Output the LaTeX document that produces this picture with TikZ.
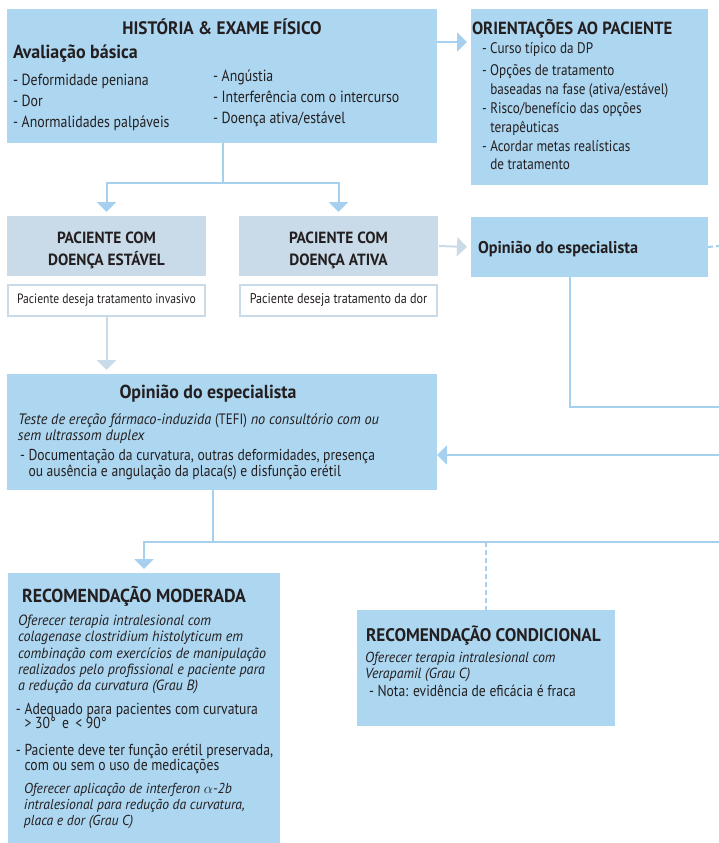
\documentclass[tikz,border=0pt]{standalone}
\usepackage{fontspec}
\setmainfont{PT Sans}[
  UprightFeatures={FakeStretch=0.86},
  BoldFeatures={FakeStretch=0.95},
  ItalicFeatures={FakeStretch=0.95}]
\usetikzlibrary{arrows.meta}

\definecolor{boxblue}{RGB}{173,214,240}
\definecolor{boxgray}{RGB}{201,219,233}
\definecolor{lineblue}{RGB}{166,208,238}
\definecolor{textdark}{RGB}{35,31,32}

\newcommand{\fs}[2]{\fontsize{#1}{#2}\selectfont}
\newcommand{\hang}{\hphantom{- }}
\newcommand{\tline}[1]{\hbox{#1}}
\newcommand{\twolines}[2]{\vtop{\halign{\hfil##\hfil\cr #1\cr #2\cr}}}

\tikzset{
  panel/.style={fill=boxblue, draw=none, anchor=north west, inner sep=0pt, outer sep=0pt},
  graypanel/.style={fill=boxgray, draw=none, anchor=north west, inner sep=0pt, outer sep=0pt},
  whitepanel/.style={fill=white, draw=boxgray, line width=2pt, anchor=north west,
    inner sep=0pt, outer sep=0pt, text=textdark},
  txt/.style={anchor=base west, inner sep=0pt, outer sep=0pt, text=textdark},
  headtxt/.style={anchor=base, inner sep=0pt, outer sep=0pt, text=textdark,
    font=\bfseries\fs{16.2}{22}},
  link/.style={draw=lineblue, line width=2pt},
  arrowlink/.style={link, -{Triangle[length=10pt,width=19pt]}},
  grayarrow/.style={draw=boxgray, line width=2pt, -{Triangle[length=10pt,width=19pt]}},
  dashlink/.style={link, dash pattern=on 5pt off 3pt},
}

\begin{document}
\begin{tikzpicture}[x=1pt, y=-1pt]
\useasboundingbox (0,0) rectangle (719,843);

% ---- boxes ----
\node[panel, minimum width=430pt, minimum height=134pt] (hist) at (7,9) {};
\node[panel, minimum width=237pt, minimum height=176pt] (orient) at (471,9) {};
\node[graypanel, minimum width=199pt, minimum height=60pt] (stablehead) at (7,216) {};
\node[graypanel, minimum width=199pt, minimum height=60pt] (activehead) at (239,216) {};
\node[whitepanel, minimum width=197pt, minimum height=31pt, font=\fs{13.5}{16}] (stablewish) at (8,285) {Paciente deseja tratamento invasivo};
\node[whitepanel, minimum width=197pt, minimum height=31pt, font=\fs{14.1}{17}] (activewish) at (240,285) {Paciente deseja tratamento da dor};
\node[panel, minimum width=237pt, minimum height=60pt] (specright) at (471,217) {};
\node[panel, minimum width=430pt, minimum height=116pt] (specbig) at (7,374) {};
\node[panel, minimum width=272pt, minimum height=270pt] (moderate) at (8,573) {};
\node[panel, minimum width=258pt, minimum height=116pt] (conditional) at (357,610) {};

% ---- texts: history & physical exam ----
\node[txt, anchor=base, font=\bfseries\fs{18.1}{20}] (histtitle) at (222,35) {HISTÓRIA \& EXAME FÍSICO};
\node[txt, font=\bfseries\fs{18.9}{20}] (basic) at (13,58.5) {Avaliação básica};
\node[txt, font=\fs{16.1}{21.2}] (basicleft) at (13,85) {\vtop{\tline{- Deformidade peniana}\tline{- Dor}\tline{- Anormalidades palpáveis}}};
\node[txt, font=\fs{16.1}{20.8}] (basicright) at (213,81.7) {\vtop{\tline{- Angústia}\tline{- Interferência com o intercurso}\tline{- Doença ativa/estável}}};

% ---- texts: patient guidance ----
\node[txt, font=\bfseries\fs{17.6}{20}] (orienttitle) at (472,35) {ORIENTAÇÕES AO PACIENTE};
\node[txt, font=\fs{15.3}{18.8}] (orientlist) at (482,54) {\vtop{\tline{- Curso típico da DP}\vskip3pt
  \tline{- Opções de tratamento}\tline{\hang baseadas na fase (ativa/estável)}
  \tline{- Risco/benefício das opções}\tline{\hang terapêuticas}
  \tline{- Acordar metas realísticas}\tline{\hang de tratamento}}};

% ---- texts: patient groups ----
\node[headtxt] (stableheadtext) at ([yshift=-27pt]stablehead.north) {\twolines{PACIENTE COM}{DOENÇA ESTÁVEL}};
\node[headtxt] (activeheadtext) at ([yshift=-27pt]activehead.north) {\twolines{PACIENTE COM}{DOENÇA ATIVA}};

% ---- texts: specialist opinion ----
\node[txt, font=\bfseries\fs{17}{18}] (specrighttitle) at (478,253.3) {Opinião do especialista};
\node[txt, anchor=base, font=\bfseries\fs{18.8}{20}] (specbigtitle) at (208,398.3) {Opinião do especialista};
\node[txt, font=\itshape\fs{15.05}{16}] (tefi) at (18,424) {\vtop{\tline{Teste de ereção fármaco-induzida {\upshape(TEFI)} no consultório com ou}\tline{sem ultrassom duplex}}};
\node[txt, font=\fs{15.8}{15.5}] (tefidoc) at (20,460.7) {\vtop{\tline{- Documentação da curvatura, outras deformidades, presença}\tline{\hang ou ausência e angulação da placa(s) e disfunção erétil}}};

% ---- texts: moderate recommendation ----
\node[txt, font=\bfseries\fs{18.8}{20}] (modtitle) at (22,602) {RECOMENDAÇÃO MODERADA};
\node[txt, font=\itshape\fs{14.8}{16.2}] (modtext) at (18,625.7) {\vtop{\tline{Oferecer terapia intralesional com}\tline{colagenase clostridium histolyticum em}\tline{combinação com exercícios de manipulação}\tline{realizados pelo profissional e paciente para}\tline{a redução da curvatura (Grau B)}}};
\node[txt, font=\fs{15.9}{14.6}] (modfit) at (16,714.3) {\vtop{\tline{- Adequado para pacientes com curvatura}\tline{\hang > 30°\, e\, < 90°}}};
\node[txt, font=\fs{15.9}{14.6}] (modfunc) at (16,755) {\vtop{\tline{- Paciente deve ter função erétil preservada,}\tline{\hang com ou sem o uso de medicações}}};
\node[txt, font=\itshape\fs{14.4}{16}] (modifn) at (24,793) {\vtop{\tline{Oferecer aplicação de interferon $\alpha$-2b}\tline{intralesional para redução da curvatura,}\tline{placa e dor (Grau C)}}};

% ---- texts: conditional recommendation ----
\node[txt, font=\bfseries\fs{18.2}{20}] (condtitle) at (366,641.7) {RECOMENDAÇÃO CONDICIONAL};
\node[txt, font=\itshape\fs{14.6}{15.6}] (condtext) at (365,662.7) {\vtop{\tline{Oferecer terapia intralesional com}\tline{Verapamil (Grau C)}}};
\node[txt, font=\fs{15.8}{16}] (condnote) at (369,696.7) {- Nota: evidência de eficácia é fraca};

% ---- connector points ----
\coordinate (split) at (223,183);
\coordinate (edgeA) at (719,246);
\coordinate (turnB) at (570,407);
\coordinate (edgeB) at (719,407);
\coordinate (edgeC) at (719,455);
\coordinate (hub) at (213,542);
\coordinate (edgeD) at (719,542);
\coordinate (stableaim) at (specbig.north -| stablewish.south);

% ---- connectors ----
\draw[arrowlink] ([yshift=-33pt]hist.north east) -- ([yshift=-33pt,xshift=-4pt]orient.north west);
\draw[link] (hist.south -| split) -- (split);
\draw[arrowlink] (split) -| ([yshift=4pt]stablehead.north);
\draw[arrowlink] (split) -| ([yshift=4pt]activehead.north);
\draw[grayarrow] ([yshift=-1pt]stablewish.south) -- ([yshift=4pt]stableaim);
\draw[grayarrow] ([xshift=1pt]activehead.east) -- ([xshift=-4pt]specright.west);
\draw[dashlink] (specright.east) -- (edgeA);
\draw[link] (specright.south -| turnB) |- (edgeB);
\draw[arrowlink] (edgeC) -- (edgeC -| specbig.east);
\draw[link] (specbig.south -| hub) -- (hub) -- (edgeD);
\draw[arrowlink] (hub) -| ([yshift=4pt]moderate.north);
\draw[dashlink] (conditional.north |- hub) -- (conditional.north);
\end{tikzpicture}
\end{document}
